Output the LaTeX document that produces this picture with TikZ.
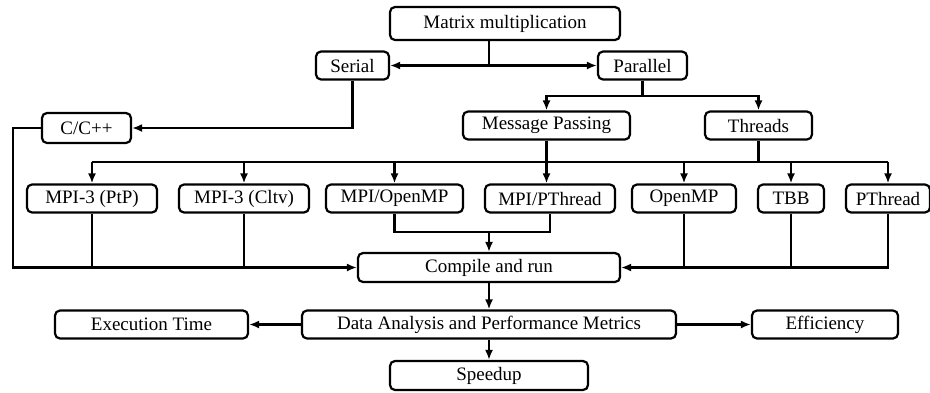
\documentclass[tikz,border=0pt]{standalone}
\usepackage{fontspec}
\setmainfont{Liberation Serif}
\usepackage{tikz}
\usetikzlibrary{arrows.meta,calc}
\tikzset{%
  >={Latex[width=4pt,length=5pt]},
  % Specifications for style of nodes:
            box/.style = {rectangle, rounded corners=2.5pt, draw=black, line width=1.1pt,
                          minimum height=14pt, inner sep=1pt,
                          text centered, font=\fontsize{9.5}{11}\selectfont}
                          }

\begin{document}
\begin{tikzpicture}[x=0.5pt, y=-0.5pt, line width=1.1pt]
                    \useasboundingbox (0,0) rectangle (930,392);

                    \node (matmul)     [box, minimum width=115pt, minimum height=16.5pt] at (505,23.5)  {Matrix multiplication};
                    \node (serial)     [box, minimum width=36.5pt]  at (352.5,65.5) {Serial};
                    \node (parallel)   [box, minimum width=44.5pt]  at (642.5,65.5) {Parallel};
                    \node (cpp)        [box, minimum width=44.5pt, minimum height=15pt] at (86.5,128) {C/C++};
                    \node (msgpass)    [box, minimum width=83.5pt]  at (546.5,125.5) {Message Passing};
                    \node (threads)    [box, minimum width=53.5pt]  at (758.5,125.5) {Threads};

                    % second row of implementations
                    \node (ptp)        [box, minimum width=65pt]    at (92,198.5)    {MPI-3 (PtP)};
                    \node (cltv)       [box, minimum width=65pt]    at (244,198.5)   {MPI-3 (Cltv)};
                    \node (mpiomp)     [box, minimum width=68.5pt]  at (394.5,198.5) {MPI/OpenMP};
                    \node (mpipth)     [box, minimum width=65pt]    at (550,198.5)   {MPI/PThread};
                    \node (omp)        [box, minimum width=52pt]    at (684,198.5)   {OpenMP};
                    \node (tbb)        [box, minimum width=33pt]    at (791,198.5)   {TBB};
                    \node (pth)        [box, minimum width=42pt]    at (888,198.5)   {PThread};

                    \node (compile)    [box, minimum width=131pt, minimum height=14.5pt] at (489,267.5) {Compile and run};
                    \node (analysis)   [box, minimum width=187pt]   at (489,324.5)   {Data Analysis and Performance Metrics};
                    \node (exectime)   [box, minimum width=96.5pt]  at (151.5,324.5) {Execution Time};
                    \node (efficiency) [box, minimum width=73pt]    at (825,324.5)   {Efficiency};
                    \node (speedup)    [box, minimum width=99pt, minimum height=14.5pt] at (489,375.5) {Speedup};

                    \coordinate (split)    at (489,65.5);
                    \coordinate (pbus)     at (642.5,96);
                    \coordinate (rbus)     at (0,162);
                    \coordinate (mbus)     at (0,232);
                    \coordinate (leftrail) at (13,267.5);

                    \draw      (matmul.south -| split) -- (split);
                    \draw[<->] (serial) -- (parallel);
                    \draw[->]  (serial.south) |- (cpp.east);
                    \draw[->]  (cpp.west) -| (leftrail) -- (compile.west);

                    \draw      (parallel.south) -- (pbus);
                    \draw[->]  (pbus) -| (msgpass.north);
                    \draw[->]  (pbus) -| (threads.north);

                    \draw      (msgpass.south) -- (msgpass.south |- rbus);
                    \draw      (threads.south) -- (threads.south |- rbus);
                    \draw      (ptp.north |- rbus) -- (pth.north |- rbus);
                    \foreach \n in {ptp,cltv,mpiomp,omp,tbb,pth}
                        \draw[->] (\n.north |- rbus) -- (\n.north);
                    \draw[->]  (msgpass.south |- rbus) -- (msgpass.south |- mpipth.north);

                    \draw      (ptp.south)  -- (ptp.south |- compile.west);
                    \draw      (cltv.south) -- (cltv.south |- compile.west);
                    \draw      (mpiomp.south) |- (mpipth.south |- mbus) -- (mpipth.south);
                    \draw[->]  (compile.north |- mbus) -- (compile.north);
                    \draw[->]  (pth.south) |- (compile.east);
                    \draw      (omp.south) -- (omp.south |- compile.east);
                    \draw      (tbb.south) -- (tbb.south |- compile.east);

                    \draw[->]  (compile)  -- (analysis);
                    \draw[->]  (analysis) -- (exectime);
                    \draw[->]  (analysis) -- (efficiency);
                    \draw[->]  (analysis) -- (speedup);

                    %\node (label) [above of=compile] {};
\end{tikzpicture}
\end{document}
